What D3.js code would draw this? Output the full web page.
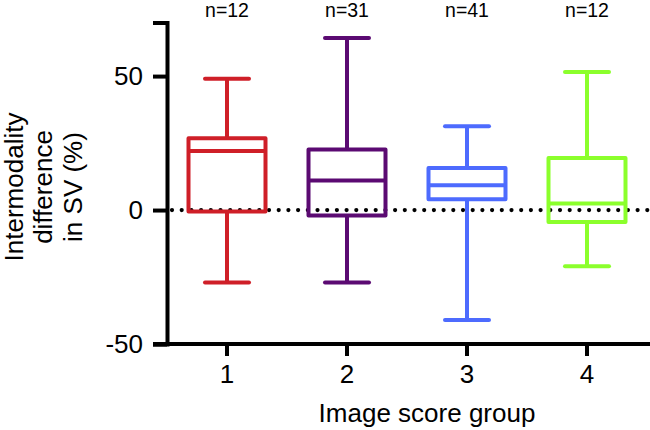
<!DOCTYPE html>
<html>
<head>
<meta charset="utf-8">
<script src="https://cdn.jsdelivr.net/npm/d3@7/dist/d3.min.js"></script>
<style>
  body { margin: 0; background: #fff; }
  text { font-family: Arial, "Liberation Sans", sans-serif; fill: #000; }
</style>
</head>
<body>
<svg id="canvas"></svg>
<script>
// Groups and box statistics
var groups = ['1', '2', '3', '4'];
var counts = [12, 31, 41, 12];
var whiskerLow = [-27, -27, -41, -21];
var q1 = [-0.5, -2, 4, -4.5];
var medians = [22, 11, 9.3, 2.4];
var q3 = [26.8, 22.6, 15.7, 19.4];
var whiskerHigh = [49, 64.2, 31.3, 51.5];
var colors = ['#cf1f28', '#5b0a72', '#4d6bfe', '#8bff2c'];
var yTicks = [-50, 0, 50];

var canvasWidth = 650;
var canvasHeight = 430;
var boxWidth = 81;
var capWidth = 44;

var svg = d3.select('#canvas')
  .attr('width', canvasWidth)
  .attr('height', canvasHeight);

var data = groups.map(function(g, i) {
  return {
    group: g, n: counts[i], lo: whiskerLow[i], q1: q1[i],
    med: medians[i], q3: q3[i], hi: whiskerHigh[i], color: colors[i]
  };
});

var x = d3.scaleBand().domain(groups).range([167, 647]);
var y = d3.scaleLinear().domain([-50, 70]).range([344, 22.5]);

// Zero reference line (dotted)
svg.append('line')
  .attr('x1', 172).attr('x2', canvasWidth)
  .attr('y1', y(0)).attr('y2', y(0))
  .attr('stroke', '#000')
  .attr('stroke-width', 4.2)
  .attr('stroke-linecap', 'round')
  .attr('stroke-dasharray', '0,9.7');

// Boxes
var boxes = svg.append('g')
  .selectAll('.box')
  .data(data)
  .enter()
  .append('g')
  .classed('box', true)
  .attr('transform', function(d) {
    return 'translate(' + (x(d.group) + x.bandwidth() / 2) + ',0)';
  })
  .attr('stroke', function(d) { return d.color; })
  .attr('stroke-width', 4)
  .attr('fill', 'none');

// whiskers
boxes.append('line')
  .attr('x1', 0).attr('x2', 0)
  .attr('y1', function(d) { return y(d.hi); })
  .attr('y2', function(d) { return y(d.q3); });
boxes.append('line')
  .attr('x1', 0).attr('x2', 0)
  .attr('y1', function(d) { return y(d.q1); })
  .attr('y2', function(d) { return y(d.lo); });

// caps
boxes.append('line')
  .attr('x1', -capWidth / 2).attr('x2', capWidth / 2)
  .attr('y1', function(d) { return y(d.hi); })
  .attr('y2', function(d) { return y(d.hi); })
  .attr('stroke-linecap', 'round');
boxes.append('line')
  .attr('x1', -capWidth / 2).attr('x2', capWidth / 2)
  .attr('y1', function(d) { return y(d.lo); })
  .attr('y2', function(d) { return y(d.lo); })
  .attr('stroke-linecap', 'round');

// box
boxes.append('rect')
  .attr('x', -boxWidth / 2 + 2)
  .attr('width', boxWidth - 4)
  .attr('y', function(d) { return y(d.q3); })
  .attr('height', function(d) { return y(d.q1) - y(d.q3); })
  .attr('stroke-linejoin', 'round');

// median
boxes.append('line')
  .attr('x1', -boxWidth / 2 + 2).attr('x2', boxWidth / 2 - 2)
  .attr('y1', function(d) { return y(d.med); })
  .attr('y2', function(d) { return y(d.med); });

// n labels
svg.append('g')
  .selectAll('text')
  .data(data)
  .enter()
  .append('text')
  .attr('x', function(d) { return x(d.group) + x.bandwidth() / 2; })
  .attr('y', 17)
  .attr('text-anchor', 'middle')
  .style('font-size', '19.5px')
  .text(function(d) { return 'n=' + d.n; });

// X axis
var xAxis = svg.append('g')
  .attr('transform', 'translate(0,' + y(-50) + ')')
  .call(d3.axisBottom(x).tickSizeOuter(0).tickSize(12).tickPadding(8.5));
xAxis.select('.domain')
  .attr('d', 'M' + 153 + ',0H' + canvasWidth)
  .attr('stroke-width', 4);
xAxis.selectAll('.tick line').attr('stroke-width', 4);
xAxis.selectAll('.tick text').style('font-size', '26px');

// Y axis
var yAxis = svg.append('g')
  .attr('transform', 'translate(167,0)')
  .call(d3.axisLeft(y).tickValues(yTicks).tickSizeOuter(0).tickSize(14).tickPadding(10)
    .tickFormat(function(d) { return String(d); }));
yAxis.select('.domain').attr('stroke-width', 4);
yAxis.selectAll('.tick line').attr('stroke-width', 4);
yAxis.selectAll('.tick text').style('font-size', '26px');

// Axis titles
svg.append('text')
  .attr('x', 427)
  .attr('y', 422)
  .attr('text-anchor', 'middle')
  .style('font-size', '26px')
  .text('Image score group');

var yTitle = svg.append('text')
  .attr('transform', 'translate(0,187) rotate(-90)')
  .attr('text-anchor', 'middle')
  .style('font-size', '26px');
['Intermodality', 'difference', 'in SV (%)'].forEach(function(line, i) {
  yTitle.append('tspan')
    .attr('x', 0)
    .attr('y', 22.5 + i * 29.7)
    .text(line);
});
</script>
</body>
</html>
